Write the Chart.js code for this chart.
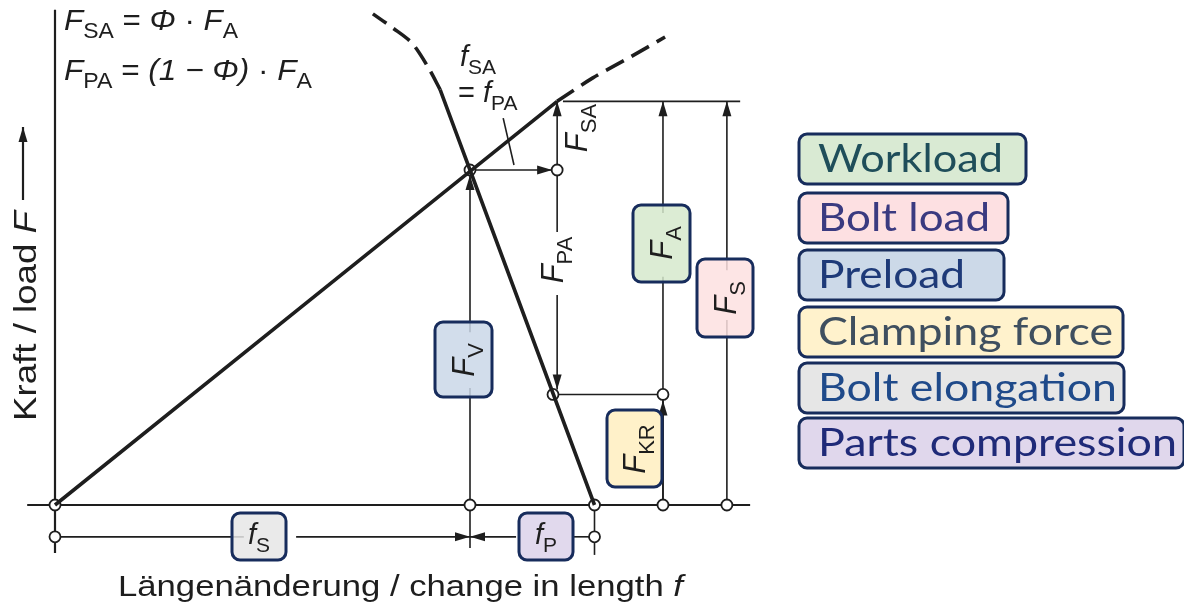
<!DOCTYPE html>
<html>
<head>
<meta charset="utf-8">
<script src="https://cdn.jsdelivr.net/npm/chart.js@4"></script>
<style>
  html, body { margin: 0; padding: 0; background: #fff; }
  #wrap { width: 1184px; height: 608px; }
</style>
</head>
<body>
<div id="wrap"><canvas id="c" width="1184" height="608"></canvas></div>
<script>
// elongation f (x) and force F (y), arbitrary units
const boltLine    = [[0, 0], [12.1, 12.05]];
const boltDashed  = [[12.1, 12.05], [12.96, 12.75], [13.86, 13.37], [14.7, 13.97]];
const partsLine   = [[13, 0], [10, 10], [9.28, 12.4]];
const partsDashed = [[9.28, 12.4], [8.99, 13.07], [8.6, 13.79], [8.14, 14.24], [7.66, 14.66]];

// key values
const fS = 10, fP = 3, FV = 10, FKR = 3.3, Ftop = 12.05;
const xSA = 12.1, xA = 14.65, xS = 16.19, rowY = -0.95;

const nodes = [[0, 0], [fS, 0], [fS + fP, 0], [xA, 0], [xS, 0],
               [fS, FV], [xSA, FV], [12.0, FKR], [xA, FKR],
               [0, rowY], [fS + fP, rowY]];

const legendItems = ['Workload', 'Bolt load', 'Preload', 'Clamping force', 'Bolt elongation', 'Parts compression'];
const legendFills = ['#d9ead3', '#fde0e2', '#ccd9e8', '#fff2cc', '#e6e6e6', '#e0d7ec'];
const legendInk   = ['#1f4e5a', '#3a3a80', '#1e3a78', '#3f4f5f', '#1f4a8a', '#1f2a78'];

const pts = a => a.map(p => ({x: p[0], y: p[1]}));
const INK = '#1e1e1e';
const FONT = '"Liberation Sans", Arial, sans-serif';

// draws text with italic / subscript parts; optional stretch to a target width
function rich(ctx, parts, x, y, size, align, fitW) {
  const font = p => (p[1] === 'i' ? 'italic ' : '') + (p[1] === 's' ? Math.round(size * 0.72) : size) + 'px ' + FONT;
  let w = 0;
  parts.forEach(p => { ctx.font = font(p); w += ctx.measureText(p[0]).width; });
  const k = fitW ? fitW / w : 1;
  ctx.save();
  ctx.translate(align === 'center' ? x - w * k / 2 : x, y);
  ctx.scale(k, 1);
  ctx.textAlign = 'left';
  ctx.textBaseline = 'alphabetic';
  let cx = 0;
  parts.forEach(p => {
    ctx.font = font(p);
    ctx.fillText(p[0], cx, p[1] === 's' ? size * 0.28 : 0);
    cx += ctx.measureText(p[0]).width;
  });
  ctx.restore();
}

function rbox(ctx, x, y, w, h, fill, alpha) {
  ctx.save();
  ctx.beginPath();
  ctx.roundRect(x, y, w, h, 8);
  ctx.globalAlpha = alpha;
  ctx.fillStyle = fill;
  ctx.fill();
  ctx.globalAlpha = 1;
  ctx.lineWidth = 3;
  ctx.strokeStyle = '#172c5c';
  ctx.stroke();
  ctx.restore();
}

const drawing = {
  id: 'drawing',
  beforeDatasetsDraw(chart) {
    const {ctx, scales: {x, y}} = chart;
    const X = v => x.getPixelForValue(v), Y = v => y.getPixelForValue(v);
    ctx.save();
    ctx.strokeStyle = INK;
    ctx.fillStyle = INK;
    const line = (x1, y1, x2, y2) => {
      ctx.beginPath(); ctx.moveTo(x1, y1); ctx.lineTo(x2, y2); ctx.stroke();
    };
    const arrow = (x1, y1, x2, y2) => {
      line(x1, y1, x2, y2);
      const a = Math.atan2(y2 - y1, x2 - x1), L = 15, W = 4.5;
      ctx.beginPath();
      ctx.moveTo(x2, y2);
      ctx.lineTo(x2 - L * Math.cos(a) + W * Math.sin(a), y2 - L * Math.sin(a) - W * Math.cos(a));
      ctx.lineTo(x2 - L * Math.cos(a) - W * Math.sin(a), y2 - L * Math.sin(a) + W * Math.cos(a));
      ctx.closePath(); ctx.fill();
    };

    // axes
    ctx.lineWidth = 2.2;
    line(X(0), Y(-1.43), X(0), Y(14.78));
    line(X(-0.67), Y(0), X(16.75), Y(0));
    arrow(23, 200, 23, 127);

    ctx.lineWidth = 1.6;
    // elongation row
    line(X(0), Y(rowY), X(4.55), Y(rowY));
    arrow(X(5.81), Y(rowY), X(fS), Y(rowY));
    arrow(X(11.11), Y(rowY), X(fS), Y(rowY));
    line(X(12.46), Y(rowY), X(fS + fP), Y(rowY));
    line(X(fS), Y(-1.28), X(fS), Y(0));
    line(X(fS + fP), Y(0), X(fS + fP), Y(-1.49));

    // preload F_V
    line(X(fS), Y(0), X(fS), Y(3.49));
    arrow(X(fS), Y(5.16), X(fS), Y(FV) + 5);
    // f_SA = f_PA
    arrow(X(fS) + 5, Y(FV), X(xSA) - 5, Y(FV));
    line(X(10.8), Y(11.55), X(11.06), Y(10.15));
    // F_SA
    arrow(X(xSA), Y(FV) - 5, X(xSA), Y(Ftop));
    // F_PA
    line(X(xSA), Y(FV) + 5, X(xSA), Y(8.15));
    arrow(X(xSA), Y(6.27), X(xSA), Y(FKR) - 5);
    // top line
    line(X(12.24), Y(Ftop), X(16.51), Y(Ftop));
    // F_A
    line(X(xA), Y(0), X(xA), Y(6.81));
    arrow(X(xA), Y(8.72), X(xA), Y(Ftop));
    arrow(X(xA), Y(0) - 5, X(xA), Y(FKR) + 6);
    line(X(12.0), Y(FKR), X(xA), Y(FKR));
    // F_S
    line(X(xS), Y(0), X(xS), Y(5.52));
    arrow(X(xS), Y(7.01), X(xS), Y(Ftop));
    ctx.restore();
  },
  afterDatasetsDraw(chart) {
    const {ctx} = chart;
    ctx.save();
    ctx.fillStyle = INK;

    // formulas
    rich(ctx, [['F', 'i'], ['SA', 's'], [' = ', 'n'], ['Φ', 'i'], [' · ', 'n'], ['F', 'i'], ['A', 's']], 64, 30, 30, 'left', 174);
    rich(ctx, [['F', 'i'], ['PA', 's'], [' = ', 'n'], ['(1 − ', 'i'], ['Φ', 'i'], [')', 'i'], [' · ', 'n'], ['F', 'i'], ['A', 's']], 64, 80, 30, 'left', 248);
    rich(ctx, [['f', 'i'], ['SA', 's']], 460, 66, 29);
    rich(ctx, [['= ', 'n'], ['f', 'i'], ['PA', 's']], 458, 102, 29);

    // axis titles
    rich(ctx, [['Längenänderung / change in length ', 'n'], ['f', 'i']], 118, 596, 29, 'left', 565);
    ctx.save();
    ctx.translate(36, 316);
    ctx.rotate(-Math.PI / 2);
    rich(ctx, [['Kraft / load ', 'n'], ['F', 'i']], 0, 0, 32, 'center', 210);
    ctx.restore();

    const vlabel = (cx, cy, sub) => {
      ctx.save();
      ctx.translate(cx, cy);
      ctx.rotate(-Math.PI / 2);
      ctx.fillStyle = INK;
      rich(ctx, [['F', 'i'], [sub, 's']], 0, 0, 31, 'center');
      ctx.restore();
    };

    // boxed labels
    rbox(ctx, 435, 322, 57, 75, '#cad7e8', 0.85);  vlabel(474, 360, 'V');
    rbox(ctx, 633, 205, 57, 77, '#d6e9cd', 0.85);  vlabel(672, 243, 'A');
    rbox(ctx, 697, 259, 56, 78, '#fde0e0', 0.85);  vlabel(736, 298, 'S');
    rbox(ctx, 607, 410, 55, 77, '#fff0c4', 0.92);  vlabel(645, 449, 'KR');
    rbox(ctx, 232, 513, 54, 47, '#e6e6e6', 0.85);
    rbox(ctx, 519, 513, 54, 47, '#dcd2ea', 0.85);
    ctx.fillStyle = INK;
    rich(ctx, [['f', 'i'], ['S', 's']], 259, 544, 29, 'center');
    rich(ctx, [['f', 'i'], ['P', 's']], 546, 544, 29, 'center');
    // unboxed rotated labels
    vlabel(563, 260, 'PA');
    vlabel(587, 128, 'SA');

    // legend on the right
    const tops = [134, 193, 250, 307, 363, 418];
    const boxW = [227, 209, 205, 324, 325, 385];
    const textW = [185, 172, 147, 295, 299, 359];
    legendItems.forEach((t, i) => {
      rbox(ctx, 799, tops[i], boxW[i], 50, legendFills[i], 1);
      ctx.save();
      ctx.font = '38px Lato, "Open Sans", sans-serif';
      const k = textW[i] / ctx.measureText(t).width;
      ctx.translate(818, tops[i] + 38);
      ctx.scale(k, 1);
      ctx.fillStyle = legendInk[i];
      ctx.textAlign = 'left';
      ctx.textBaseline = 'alphabetic';
      ctx.fillText(t, 0, 0);
      ctx.restore();
    });
    ctx.restore();
  }
};

const curve = (data, dash) => ({
  data: pts(data), showLine: true, borderColor: INK, borderWidth: 3.6,
  borderDash: dash, pointRadius: 0, tension: 0.3, clip: false
});

new Chart(document.getElementById('c'), {
  type: 'scatter',
  data: {
    datasets: [
      curve(boltLine, []),
      curve(boltDashed, [20, 9]),
      curve(partsLine, []),
      curve(partsDashed, [20, 9]),
      {
        data: pts(nodes), showLine: false, pointRadius: 5.5, clip: false,
        pointBackgroundColor: '#fff', pointBorderColor: INK, pointBorderWidth: 1.8
      }
    ]
  },
  options: {
    responsive: false,
    animation: false,
    layout: { padding: 0, autoPadding: false },
    scales: {
      x: { type: 'linear', display: false, min: -55 / 41.5, max: (1184 - 55) / 41.5 },
      y: { type: 'linear', display: false, min: -103 / 33.5, max: 505 / 33.5 }
    },
    plugins: { legend: { display: false }, tooltip: { enabled: false } }
  },
  plugins: [drawing]
});
</script>
</body>
</html>
